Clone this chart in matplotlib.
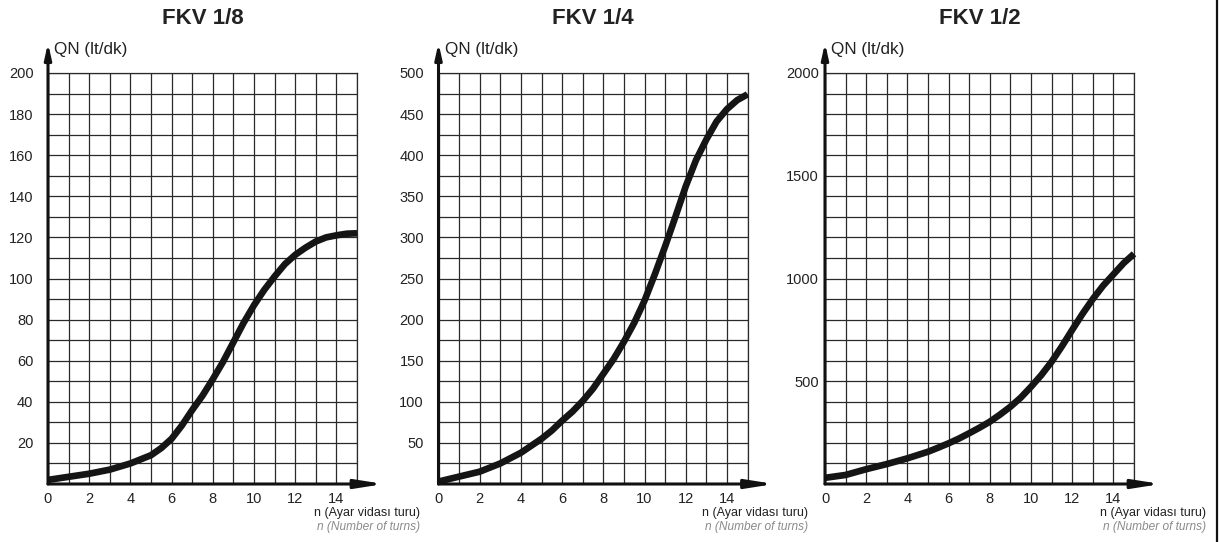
import numpy as np
import matplotlib
matplotlib.use("Agg")
import matplotlib.pyplot as plt
from matplotlib.lines import Line2D

plt.rcParams['font.family'] = ['Liberation Sans', 'DejaVu Sans']

# turns (n) and flow values
turns = [0, 1, 2, 3, 4, 5, 5.5, 6, 6.5, 7, 7.5, 8, 8.5, 9, 9.5, 10,
         10.5, 11, 11.5, 12, 12.5, 13, 13.5, 14, 14.5, 15]
q_18 = [2, 3.5, 5, 7, 10, 14, 17.5, 22, 28.5, 36, 43, 51, 59.5, 69, 78.5, 87,
        94.5, 101, 107, 111.5, 115, 118, 120, 121, 121.8, 122]
q_14 = [3, 9, 15, 25, 38, 55, 65, 77, 88, 101, 116, 134, 152, 173, 196, 223,
        255, 289, 325, 362, 394, 419, 441, 456, 467, 474]
q_12 = [30, 44, 72, 97, 125, 157, 177, 198, 221, 247, 274, 303, 338, 376, 420, 473,
        530, 595, 670, 750, 828, 900, 965, 1020, 1075, 1120]

titles = ["FKV 1/8", "FKV 1/4", "FKV 1/2"]
y_max = [200, 500, 2000]
y_grid_step = [10, 25, 100]
y_label_step = [20, 50, 500]
x_ticks = [0, 2, 4, 6, 8, 10, 12, 14]

W, H = 1228, 542
fig = plt.figure(figsize=(W / 100, H / 100), dpi=100)

# pixel layout of each grid
lefts = [48, 438.5, 825]
grid_w = 309
grid_top, grid_bot = 73, 484
ylab_pad = [10.5, 10.5, 4.5]
xlabel_right = [420, 808, 1206]

series = [q_18, q_14, q_12]

for i in range(3):
    ax = fig.add_axes([lefts[i] / W, 1 - grid_bot / H, grid_w / W, (grid_bot - grid_top) / H])
    ax.set_xlim(0, 15)
    ax.set_ylim(0, y_max[i])

    ax.set_xticks(x_ticks)
    ax.set_xticks(np.arange(0, 16, 1), minor=True)
    ax.set_yticks(np.arange(y_label_step[i], y_max[i] + 1, y_label_step[i]))
    ax.set_yticks(np.arange(0, y_max[i] + 1, y_grid_step[i]), minor=True)
    ax.grid(which='both', color='#2a2a2a', lw=0.9)
    ax.tick_params(which='both', length=0, labelsize=10.5, colors='#222222')
    ax.tick_params(axis='x', pad=6)
    ax.tick_params(axis='y', pad=ylab_pad[i])

    for s in ['left', 'bottom']:
        ax.spines[s].set_visible(False)
    for s in ['top', 'right']:
        ax.spines[s].set_color('#2a2a2a')
        ax.spines[s].set_linewidth(0.9)

    ax.plot(turns, series[i], color='#151515', lw=4.8,
            solid_capstyle='butt', solid_joinstyle='round', zorder=5, clip_on=False)

    # axis arrows
    ax.annotate('', xy=(1.087, 0), xytext=(0, 0), xycoords='axes fraction',
                arrowprops=dict(arrowstyle='-|>,head_length=1.65,head_width=0.26',
                                lw=2.2, color='#111111', shrinkA=0, shrinkB=0,
                                mutation_scale=10), zorder=6)
    ax.annotate('', xy=(0, 1.073), xytext=(0, 0), xycoords='axes fraction',
                arrowprops=dict(arrowstyle='-|>,head_length=0.9,head_width=0.2',
                                lw=2.2, color='#111111', shrinkA=0, shrinkB=0,
                                mutation_scale=10), zorder=6)

    ax.text(0.02, 1.056, "QN (lt/dk)", transform=ax.transAxes, ha='left', va='center',
            fontsize=12.3, color='#222222')
    ax.text(0.5, 1.119, titles[i], transform=ax.transAxes, ha='center', va='baseline',
            fontsize=16, fontweight='bold', color='#222222')

    fig.text(xlabel_right[i] / W, 1 - 513 / H, "n (Ayar vidası turu)", ha='right', va='center',
             fontsize=9, color='#222222')
    fig.text(xlabel_right[i] / W, 1 - 527 / H, "n (Number of turns)", ha='right', va='center',
             fontsize=8.6, style='italic', color='#8a8a8a')

# right border line
fig.add_artist(Line2D([1217 / W, 1217 / W], [0, 1], color='#111111', lw=1.6))

fig.savefig("out.png", dpi=100)
